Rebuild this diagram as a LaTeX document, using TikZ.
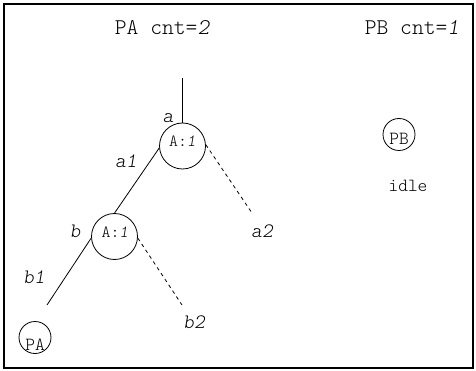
\documentclass[tikz,border=0pt]{standalone}
\usepackage{fontspec}
\setmonofont{lmmonolt10-regular.otf}[ItalicFont=lmmonolt10-oblique.otf]
\usetikzlibrary{positioning}

\begin{document}
\begin{tikzpicture}[x=1pt, y=-1pt,
  cnode/.style={draw, circle, line width=0.8pt, inner sep=0pt, minimum size=46pt},
  pnode/.style={draw, circle, line width=0.8pt, inner sep=0pt, minimum size=32pt},
  ctext/.style={font=\ttfamily\fontsize{17}{19}\selectfont, anchor=base, inner sep=0pt},
  ptext/.style={font=\ttfamily\fontsize{18.5}{20}\selectfont, anchor=base, inner sep=0pt},
  title/.style={font=\ttfamily\fontsize{22.5}{25}\selectfont, anchor=base, inner sep=0pt},
  elabel/.style={font=\ttfamily\itshape\fontsize{20.5}{23}\selectfont, anchor=base, inner sep=0pt},
  edge/.style={line width=0.8pt},
  dedge/.style={line width=0.8pt, dash pattern=on 3.5pt off 3.5pt}
]
  \useasboundingbox (0,0) rectangle (476,371);
  \draw[line width=1.5pt] (4,4) rectangle (473,368);

  % headings
  \node[title] (hPA) at (162.5,35) {PA cnt=\textit{2}};
  \node[title] (hPB) at (412,35) {PB cnt=\textit{1}};

  % tree of PA
  \coordinate (top) at (182.5,78);
  \node[cnode] (A) at (182.5,146) {};
  \node[ctext] (Atxt) at (182.5,147) {A:\textit{1}};
  \node[cnode] (B) at (114.5,236.5) {};
  \node[ctext] (Btxt) at (115,237) {A:\textit{1}};
  \coordinate (a2end) at (252,213);
  \coordinate (b1end) at (47,305);
  \coordinate (b2end) at (182,305);

  \draw[edge] (top) -- (A.north);
  \draw[edge] (A.185) -- (B.north);
  \draw[dedge] (A.3) -- (a2end);
  \draw[edge] (B.184) -- (b1end);
  \draw[dedge] (B.356) -- (b2end);

  \node[elabel] (la) at (168,123) {a};
  \node[elabel] (la1) at (126,168) {a1};
  \node[elabel] (la2) at (262,237) {a2};
  \node[elabel] (lb) at (75,237) {b};
  \node[elabel] (lb1) at (34,283) {b1};
  \node[elabel] (lb2) at (194,328) {b2};

  % processes
  \node[pnode] (PA) at (35,337.5) {};
  \node[ptext] (PAtxt) at (35,350) {PA};
  \node[pnode] (PB) at (399,134.5) {};
  \node[ptext] (PBtxt) at (399,145) {PB};
  \node[ptext] (idle) at (408,192) {idle};
\end{tikzpicture}
\end{document}
